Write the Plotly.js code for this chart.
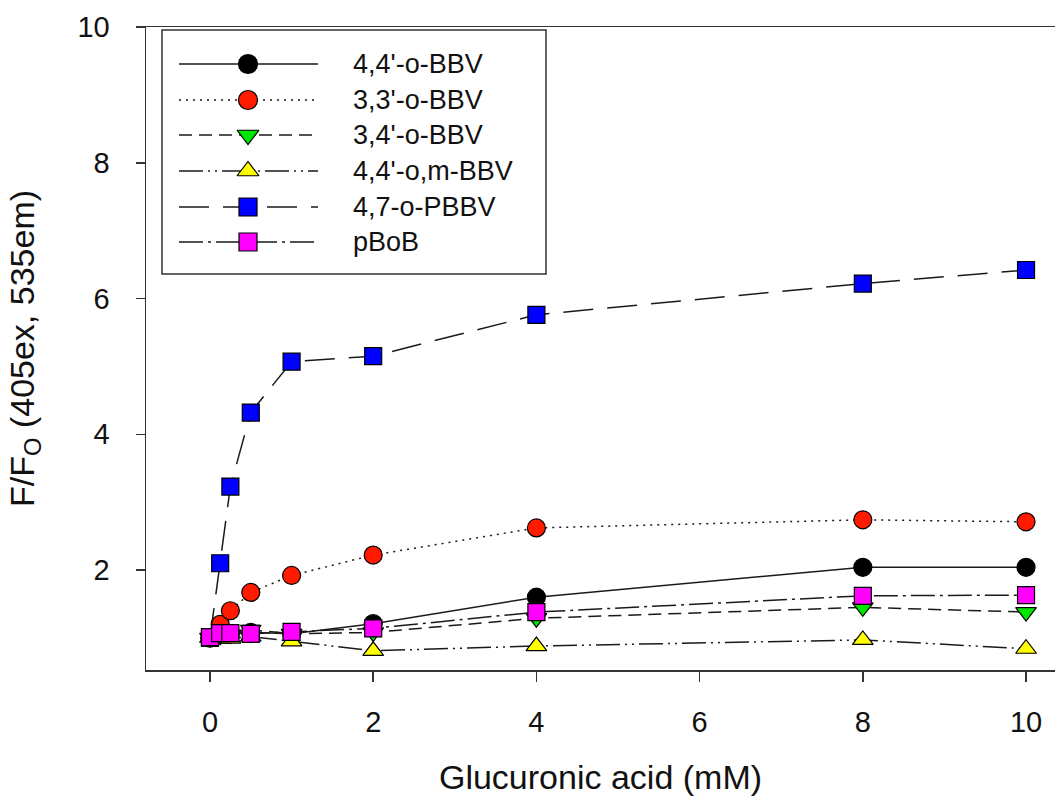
<!DOCTYPE html>
<html>
<head>
<meta charset="utf-8">
<script src="https://cdn.plot.ly/plotly-3.0.1.min.js"></script>
<style>
  html, body { margin: 0; padding: 0; background: #ffffff; }
  #chart { width: 1055px; height: 800px; }
</style>
</head>
<body>
<div id="chart"></div>
<script>
// ---- data ----
const concentration = [0, 0.125, 0.25, 0.5, 1, 2, 4, 8, 10];
const bbv44  = [1.00, 1.05, 1.06, 1.08, 1.06, 1.21, 1.60, 2.04, 2.04];
const bbv33  = [1.00, 1.20, 1.40, 1.67, 1.92, 2.22, 2.62, 2.74, 2.71];
const bbv34  = [1.00, 1.03, 1.05, 1.12, 1.06, 1.08, 1.29, 1.45, 1.38];
const bbv44om = [1.00, 0.99, 0.99, 1.02, 0.95, 0.81, 0.88, 0.97, 0.84];
const pbbv47 = [1.00, 2.10, 3.23, 4.32, 5.07, 5.15, 5.76, 6.22, 6.42];
const pbob   = [1.01, 1.07, 1.07, 1.06, 1.09, 1.14, 1.38, 1.62, 1.63];

const seriesNames = ["4,4'-o-BBV", "3,3'-o-BBV", "3,4'-o-BBV", "4,4'-o,m-BBV", "4,7-o-PBBV", "pBoB"];
const xTickVals = [0, 2, 4, 6, 8, 10];
const yTickVals = [2, 4, 6, 8, 10];

// ---- styles ----
const seriesData = [bbv44, bbv33, bbv34, bbv44om, pbbv47, pbob];
const fills   = ['#000000', '#ff1a00', '#00e600', '#ffff00', '#0000ff', '#ff00ff'];
const symbols = ['circle', 'circle', 'triangle-down', 'triangle-up', 'square', 'square'];
const sizes   = [18, 18, 18, 18, 17, 17];
const dashes  = ['solid', '2px,5px', '13px,7px', '24px,5px,2px,5px,2px,5px', '30px,14px', '24px,5px,3px,5px'];
const lineCol = '#1a1a1a';
const FONT = 'Liberation Sans, Arial, sans-serif';

const traces = seriesData.map((ys, i) => ({
  type: 'scatter',
  mode: 'lines+markers',
  x: concentration,
  y: ys,
  name: seriesNames[i],
  showlegend: false,
  line: { color: lineCol, width: 1.5, dash: dashes[i] },
  marker: { symbol: symbols[i], size: sizes[i], color: fills[i], line: { color: '#000000', width: 1.2 } },
  cliponaxis: false
}));

// ---- custom legend (pixel-like overlay axis) ----
const legendRows = [64, 100, 135, 171, 207, 242];
const legendX = [179, 248, 318];
seriesNames.forEach((nm, i) => {
  traces.push({
    type: 'scatter',
    mode: 'lines+markers',
    x: legendX,
    y: [legendRows[i], legendRows[i], legendRows[i]],
    xaxis: 'x2', yaxis: 'y2',
    showlegend: false,
    hoverinfo: 'skip',
    line: { color: lineCol, width: 1.5, dash: dashes[i] },
    marker: { symbol: symbols[i], size: sizes[i] + 1, color: fills[i], opacity: [0, 1, 0], line: { color: '#000000', width: 1.2 } }
  });
});

const annotations = seriesNames.map((nm, i) => ({
  xref: 'x2', yref: 'y2',
  x: 351, y: legendRows[i],
  xanchor: 'left', yanchor: 'middle',
  text: nm,
  showarrow: false,
  font: { family: FONT, size: 27, color: '#111111' }
}));

const layout = {
  width: 1055,
  height: 800,
  margin: { l: 146, r: 0, t: 27, b: 130 },
  paper_bgcolor: '#ffffff',
  plot_bgcolor: '#ffffff',
  showlegend: false,
  font: { family: FONT, color: '#111111' },
  xaxis: {
    range: [-0.784, 10.355],
    tickvals: xTickVals,
    ticks: 'outside', ticklen: 10, tickwidth: 1.5, tickcolor: '#333333',
    ticklabelstandoff: 16,
    showline: true, linecolor: '#333333', linewidth: 1.5, mirror: true,
    showgrid: false, zeroline: false,
    tickfont: { family: FONT, size: 29, color: '#111111' },
    title: { text: 'Glucuronic acid (mM)', font: { family: FONT, size: 34, color: '#111111' }, standoff: 28 },
    automargin: false
  },
  yaxis: {
    range: [0.527, 10],
    tickvals: yTickVals,
    ticks: 'outside', ticklen: 9, tickwidth: 1.5, tickcolor: '#333333',
    ticklabelstandoff: 20,
    showline: true, linecolor: '#333333', linewidth: 1.5, mirror: false,
    showgrid: false, zeroline: false,
    tickfont: { family: FONT, size: 29, color: '#111111' },
    title: { text: 'F/F<sub>O</sub> (405ex, 535em)', font: { family: FONT, size: 34, color: '#111111' }, standoff: 32 },
    automargin: false
  },
  xaxis2: { domain: [0, 1], range: [146, 1055], visible: false, anchor: 'y2', overlaying: 'x', fixedrange: true },
  yaxis2: { range: [670, 27], visible: false, anchor: 'x2', overlaying: 'y', fixedrange: true },
  shapes: [{
    type: 'rect', xref: 'x2', yref: 'y2',
    x0: 162, x1: 546, y0: 30, y1: 274,
    line: { color: '#333333', width: 1.5 },
    fillcolor: 'rgba(255,255,255,0)',
    layer: 'above'
  }],
  annotations: annotations
};

Plotly.newPlot('chart', traces, layout, { displayModeBar: false, staticPlot: true });
</script>
</body>
</html>
